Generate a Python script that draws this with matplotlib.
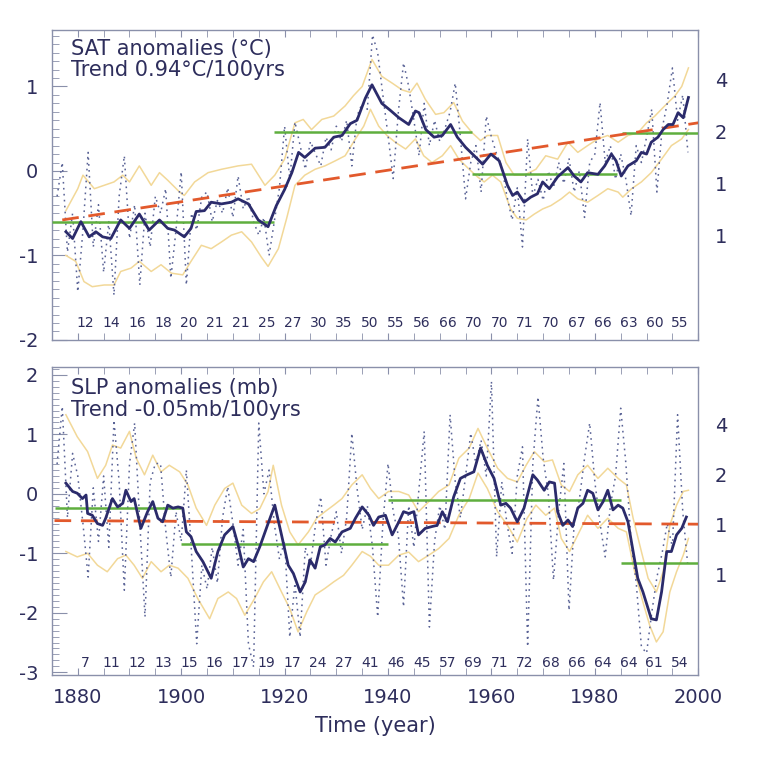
import numpy as np
import matplotlib
matplotlib.use("Agg")
import matplotlib.pyplot as plt
from matplotlib.ticker import MultipleLocator

plt.rcParams["axes.unicode_minus"] = False

# ---------------- SAT panel data ----------------
sat_years = list(range(1876, 1999))
sat_annual = [-0.3, 0.1, -0.96, -0.5, -1.43, -0.7, 0.22, -0.9, -0.4, -1.2,
              -0.6, -1.47, -0.3, 0.18, -0.8, -0.4, -1.35, -0.5, -0.9, -0.3,
              -0.5, -0.21, -1.27, -0.7, -0.01, -1.35, -0.5, -0.7, -0.3, -0.25,
              -0.6, -0.35, -0.5, -0.2, -0.55, -0.06, -0.45, -0.3, -0.6, -0.76,
              -0.55, -1.0, -0.6, -0.2, 0.53, -0.1, 0.58, 0.3, 0.02, 0.35,
              0.2, 0.06, 0.4, 0.25, 0.53, 0.35, 0.6, 0.06, 0.65, 0.8,
              0.73, 1.61, 1.4, 0.9, 0.42, -0.09, 0.7, 1.28, 1.0, 0.6,
              0.18, 0.8, 0.3, 0.6, 0.35, 0.5, 0.7, 1.04, 0.4, -0.33,
              0.1, 0.3, -0.25, 0.65, 0.4, 0.2, 0.05, -0.3, -0.58, -0.2,
              -0.9, 0.38, -0.3, -0.1, -0.35, 0.0, -0.2, 0.1, -0.15, 0.15,
              -0.25, 0.0, -0.55, 0.1, 0.2, 0.81, 0.1, 0.3, -0.1, 0.2,
              -0.1, -0.53, 0.3, 0.1, 0.4, 0.73, -0.25, 0.5, 0.8, 1.22,
              0.6, 0.9, 0.22]

sat_smooth_years = [1877.7, 1879, 1880.6, 1882.2, 1883.5, 1884.8, 1886.4, 1888.3, 1890, 1891.9,
                    1893.8, 1895.8, 1897.4, 1898.7, 1900.6, 1901.9, 1902.9, 1904.5, 1905.8, 1907.8,
                    1909.7, 1911, 1913, 1914.9, 1916.8, 1918.4, 1920, 1921.4, 1922.7, 1923.9,
                    1925.9, 1927.8, 1929.5, 1931.1, 1932.7, 1934, 1935.6, 1936.9, 1938.8, 1940.4,
                    1942.1, 1944, 1945.3, 1946, 1947.3, 1948.9, 1950.5, 1952.1, 1953.4, 1955,
                    1957, 1958.3, 1959.9, 1961.5, 1963.1, 1964.1, 1965, 1966.3, 1967.6, 1968.9,
                    1969.9, 1971.2, 1972.8, 1974.8, 1976, 1977.3, 1978.6, 1980.6, 1981.9, 1983.2,
                    1984.1, 1985.1, 1986.4, 1988, 1989, 1990, 1990.9, 1992.2, 1993.2, 1994.2,
                    1995.1, 1996.1, 1997.1, 1998.1]
sat_smooth = [-0.72, -0.80, -0.60, -0.78, -0.72, -0.78, -0.80, -0.58, -0.68, -0.51,
              -0.70, -0.58, -0.68, -0.70, -0.78, -0.68, -0.48, -0.47, -0.37, -0.39,
              -0.37, -0.33, -0.39, -0.58, -0.66, -0.41, -0.22, -0.02, 0.22, 0.16,
              0.27, 0.28, 0.40, 0.42, 0.56, 0.60, 0.86, 1.02, 0.80, 0.72,
              0.63, 0.55, 0.71, 0.69, 0.49, 0.40, 0.42, 0.55, 0.40, 0.28,
              0.16, 0.08, 0.20, 0.12, -0.17, -0.29, -0.25, -0.37, -0.31, -0.27,
              -0.13, -0.21, -0.07, 0.04, -0.06, -0.13, -0.02, -0.04, 0.06, 0.20,
              0.12, -0.06, 0.06, 0.12, 0.22, 0.20, 0.34, 0.40, 0.49, 0.55,
              0.55, 0.69, 0.63, 0.87]

sat_upper_years = [1877.7, 1880, 1881, 1883.2, 1885.1, 1887, 1888.7, 1890, 1891.9, 1894.2,
                   1895.8, 1897.4, 1899.7, 1900.6, 1902.6, 1905.2, 1907.8, 1911, 1913.6, 1916.2,
                   1918.1, 1920, 1922, 1923.6, 1925.2, 1927.2, 1929.5, 1931.7, 1933.3, 1935,
                   1936.9, 1938.8, 1940.8, 1942.7, 1944.3, 1945.6, 1947.2, 1949.2, 1950.8, 1952.7,
                   1954.4, 1956.3, 1957.9, 1959.2, 1961.2, 1962.8, 1964.4, 1966.3, 1968.6, 1970.5,
                   1972.8, 1974.8, 1976.7, 1978.6, 1980.6, 1982.5, 1984.5, 1986.4, 1988.3, 1990,
                   1991.6, 1993.5, 1995.5, 1996.8, 1998.1]
sat_upper = [-0.47, -0.21, -0.05, -0.21, -0.17, -0.13, -0.05, -0.13, 0.06, -0.17,
             -0.02, -0.11, -0.25, -0.29, -0.13, -0.02, 0.02, 0.06, 0.08, -0.17,
             -0.05, 0.14, 0.57, 0.61, 0.49, 0.61, 0.65, 0.77, 0.89, 1.0,
             1.32, 1.12, 1.04, 0.96, 0.93, 1.04, 0.85, 0.67, 0.69, 0.81,
             0.59, 0.45, 0.36, 0.42, 0.42, 0.10, -0.05, -0.05, 0.02, 0.18,
             0.14, 0.34, 0.22, 0.30, 0.38, 0.42, 0.34, 0.42, 0.45, 0.57,
             0.65, 0.77, 0.89, 1.0, 1.22]

sat_lower_years = [1877.7, 1879.6, 1881.2, 1882.8, 1885.1, 1887, 1888.3, 1890.3, 1891.9, 1894.2,
                   1896.1, 1898.1, 1900.3, 1901.9, 1903.9, 1905.8, 1907.8, 1909.7, 1911.7, 1913.6,
                   1915.5, 1916.8, 1918.8, 1920.4, 1922, 1923.9, 1925.9, 1927.8, 1929.8, 1931.7,
                   1933.7, 1935.3, 1936.6, 1938.2, 1939.8, 1941.4, 1943.4, 1945.3, 1946.9, 1948.5,
                   1950.5, 1952.1, 1953.7, 1955.7, 1957.3, 1958.6, 1960.2, 1961.8, 1963.7, 1965,
                   1966.7, 1968.3, 1969.9, 1971.5, 1973.5, 1975.1, 1976.7, 1978.6, 1980.6, 1982.5,
                   1984.5, 1985.4, 1987.1, 1989, 1990.9, 1992.9, 1994.8, 1996.8, 1998.1]
sat_lower = [-1.0, -1.07, -1.31, -1.37, -1.35, -1.35, -1.19, -1.15, -1.07, -1.19,
             -1.11, -1.21, -1.23, -1.07, -0.88, -0.92, -0.84, -0.76, -0.72, -0.84,
             -1.02, -1.13, -0.92, -0.56, -0.17, -0.05, 0.02, 0.06, 0.12, 0.18,
             0.38, 0.53, 0.73, 0.53, 0.42, 0.34, 0.26, 0.38, 0.18, 0.10,
             0.18, 0.30, 0.14, 0.02, -0.07, -0.13, -0.05, -0.13, -0.45, -0.56,
             -0.58, -0.51, -0.45, -0.41, -0.33, -0.25, -0.33, -0.37, -0.29, -0.21,
             -0.25, -0.31, -0.21, -0.13, -0.02, 0.14, 0.30, 0.38, 0.49]

sat_regime_start = [1875, 1918, 1956.2, 1985.2]
sat_regime_end = [1918, 1956.2, 1984.3, 2000]
sat_regime_mean = [-0.61, 0.46, -0.04, 0.45]

sat_trend_years = [1877, 2000]
sat_trend = [-0.58, 0.57]

sat_stations = [12, 14, 16, 18, 20, 21, 21, 25, 27, 30, 35, 50,
                55, 56, 66, 70, 70, 71, 70, 67, 66, 63, 60, 55]

# ---------------- SLP panel data ----------------
slp_years = list(range(1876, 1999))
slp_annual = [0.5, 1.47, -0.4, 0.68, 0.3, -0.5, -1.40, 0.1, -0.8, 0.3,
              -0.9, 1.24, 0.2, -1.62, 0.5, 1.19, -0.5, -2.07, 0.2, 0.51,
              0.51, -0.6, -1.40, -0.3, -0.8, 0.40, -1.0, -2.52, -1.2, -1.6,
              -0.9, -1.5, -0.4, 0.12, -0.5, -1.2, -0.6, -2.52, -2.91, 1.19,
              0.0, 0.40, -0.5, -1.1, -0.8, -2.41, -1.5, -2.41, -0.9, -1.2,
              -0.5, -0.05, -1.2, -0.7, -0.3, -1.0, -0.4, 1.02, 0.1, -0.6,
              -0.2, -0.9, -2.07, -0.5, 0.51, -0.3, -0.7, -1.90, -0.2, -0.9,
              0.1, 1.05, -2.24, -0.8, -0.2, -0.6, 1.33, 0.2, -0.4, 0.3,
              1.02, 0.5, 0.9, 0.3, 1.89, -1.06, 0.2, -0.5, -1.0, 0.3,
              0.79, -2.57, 0.5, 1.63, 0.6, 0.0, -1.45, -0.3, 0.51, -1.96,
              -0.5, -0.1, 0.6, 1.19, 0.2, -0.5, -1.06, -0.2, 0.3, 1.44,
              0.51, -0.8, -1.5, -2.57, -2.68, -2.0, -1.4, -1.0, -0.5, -0.9,
              1.33, -0.3, -1.23]

slp_smooth_years = [1877.7, 1879, 1879.9, 1880.9, 1881.6, 1881.9, 1882.8, 1883.8, 1884.8, 1885.4,
                    1886.7, 1887.7, 1888.7, 1889.3, 1890.3, 1890.9, 1892.2, 1893.5, 1894.5, 1895.5,
                    1896.4, 1897.4, 1898.4, 1899.4, 1900.3, 1901, 1901.9, 1902.9, 1904.2, 1905.8,
                    1907.1, 1908.4, 1910, 1911, 1912, 1913, 1914, 1915.2, 1916.8, 1918.1,
                    1919.4, 1920.7, 1921.7, 1923, 1924, 1924.9, 1925.9, 1926.9, 1927.8, 1928.8,
                    1929.8, 1931.1, 1932.7, 1933.7, 1935, 1936.3, 1937.2, 1938.2, 1939.5, 1940.8,
                    1942.1, 1943, 1944, 1945, 1945.9, 1947.2, 1948.5, 1949.5, 1950.5, 1951.5,
                    1952.7, 1954, 1955.3, 1956.6, 1957.9, 1959.2, 1960.5, 1961.8, 1962.8, 1963.7,
                    1965, 1966.3, 1968, 1968.9, 1970.2, 1971.2, 1972.2, 1972.8, 1973.8, 1974.8,
                    1975.7, 1976.7, 1977.7, 1978.6, 1979.6, 1980.6, 1981.6, 1982.5, 1983.5, 1984.5,
                    1985.4, 1986.4, 1987.4, 1988.3, 1989.3, 1990.3, 1990.9, 1991.9, 1992.9, 1993.9,
                    1994.8, 1995.8, 1996.8, 1997.7]
slp_smooth = [0.18, 0.04, 0.01, -0.08, -0.02, -0.33, -0.36, -0.50, -0.53, -0.41,
              -0.08, -0.22, -0.16, 0.06, -0.13, -0.08, -0.58, -0.30, -0.13, -0.41,
              -0.47, -0.19, -0.24, -0.22, -0.24, -0.64, -0.72, -0.97, -1.14, -1.42,
              -0.97, -0.69, -0.55, -0.86, -1.23, -1.09, -1.14, -0.89, -0.50, -0.19,
              -0.69, -1.20, -1.34, -1.65, -1.48, -1.11, -1.25, -0.89, -0.86, -0.75,
              -0.81, -0.64, -0.58, -0.41, -0.22, -0.36, -0.53, -0.39, -0.36, -0.69,
              -0.47, -0.30, -0.33, -0.30, -0.69, -0.58, -0.55, -0.53, -0.30, -0.47,
              -0.05, 0.26, 0.32, 0.37, 0.77, 0.48, 0.26, -0.19, -0.16, -0.24,
              -0.47, -0.24, 0.32, 0.23, 0.06, 0.20, 0.18, -0.30, -0.53, -0.44,
              -0.55, -0.24, -0.16, 0.06, 0.01, -0.27, -0.13, 0.06, -0.27, -0.19,
              -0.24, -0.47, -0.97, -1.42, -1.65, -1.93, -2.10, -2.12, -1.65, -0.97,
              -0.97, -0.69, -0.58, -0.39]

slp_upper_years = [1877.7, 1879.9, 1881.9, 1883.8, 1885.4, 1886.7, 1888.3, 1890, 1891.3, 1892.9,
                   1894.5, 1896.1, 1897.7, 1899.7, 1901.3, 1902.9, 1904.9, 1906.5, 1908.4, 1910,
                   1911.7, 1913.6, 1915.2, 1916.8, 1917.8, 1919.4, 1921, 1922.6, 1924.6, 1926.2,
                   1927.8, 1929.5, 1931.1, 1933, 1935, 1936.6, 1938.2, 1940.1, 1942.1, 1944,
                   1945.9, 1947.9, 1949.8, 1951.8, 1953.7, 1955.7, 1957.4, 1959.2, 1961.2, 1963.1,
                   1965, 1966.7, 1968.3, 1970.2, 1971.8, 1973.5, 1975.1, 1976.7, 1978.6, 1980.6,
                   1982.5, 1984.5, 1986.1, 1987.4, 1989, 1990.3, 1991.9, 1993.2, 1994.5, 1995.8,
                   1997.1, 1998.1]
slp_upper = [1.33, 0.96, 0.71, 0.26, 0.48, 0.82, 0.77, 1.05, 0.60, 0.32,
             0.65, 0.37, 0.48, 0.37, 0.15, -0.24, -0.53, -0.19, 0.09, 0.18,
             -0.19, -0.33, -0.25, 0.04, 0.48, -0.19, -0.64, -0.86, -0.64, -0.41,
             -0.30, -0.19, -0.08, 0.15, 0.32, 0.09, -0.08, 0.04, 0.04, -0.02,
             -0.30, -0.13, 0.04, 0.15, 0.60, 0.77, 1.10, 0.77, 0.43, 0.26,
             0.20, 0.48, 0.71, 0.54, 0.57, 0.15, 0.04, 0.32, 0.48, 0.26,
             0.43, 0.26, 0.15, -0.41, -0.97, -1.42, -1.65, -1.31, -0.53, -0.19,
             0.04, 0.06]

slp_lower_years = [1877.7, 1879.9, 1881.9, 1883.8, 1885.7, 1887.7, 1889.3, 1890.9, 1892.5, 1894.2,
                   1896.1, 1897.7, 1899.4, 1901.3, 1903.2, 1905.5, 1907.1, 1909.1, 1910.7, 1912.3,
                   1914.2, 1915.9, 1917.5, 1919.4, 1921, 1922.6, 1924.3, 1925.9, 1927.8, 1929.5,
                   1931.4, 1933, 1935, 1936.6, 1938.2, 1940.1, 1942.1, 1944, 1945.9, 1947.9,
                   1949.8, 1951.8, 1953.7, 1955.7, 1957.4, 1959.2, 1961.2, 1963.1, 1965, 1966.9,
                   1968.6, 1970.5, 1972.2, 1973.5, 1975.1, 1976.7, 1978.6, 1980.6, 1982.5, 1984.5,
                   1986.1, 1987.7, 1989.3, 1990.6, 1991.9, 1993.2, 1994.5, 1995.8, 1997.1, 1998.1]
slp_lower = [-0.97, -1.06, -1.0, -1.20, -1.31, -1.09, -1.03, -1.20, -1.42, -1.14,
             -1.31, -1.2, -1.25, -1.42, -1.76, -2.10, -1.76, -1.65, -1.76, -2.04,
             -1.76, -1.48, -1.31, -1.65, -1.93, -2.32, -1.98, -1.70, -1.59, -1.48,
             -1.37, -1.20, -0.97, -1.05, -1.20, -1.20, -1.03, -0.98, -1.14, -1.03,
             -0.92, -0.75, -0.36, -0.08, 0.35, 0.09, -0.30, -0.53, -0.81, -0.41,
             -0.19, -0.36, -0.24, -0.75, -0.97, -0.69, -0.36, -0.58, -0.41, -0.58,
             -0.64, -1.31, -1.82, -2.21, -2.49, -2.32, -1.65, -1.31, -1.03, -0.75]

slp_regime_start = [1875.5, 1900, 1940, 1985]
slp_regime_end = [1900, 1940, 1985, 2000]
slp_regime_mean = [-0.23, -0.85, -0.10, -1.17]

slp_trend_years = [1875.5, 2000]
slp_trend = [-0.45, -0.51]

slp_stations = [7, 11, 12, 13, 15, 16, 17, 19, 17, 24, 27, 41,
                46, 45, 57, 69, 71, 72, 68, 66, 64, 64, 61, 54]

station_years = np.arange(1881.5, 2000, 5)

# right-hand labels (clipped in the source)
sat_right_pos = [1.08, 0.47, -0.15, -0.76]
slp_right_pos = [1.17, 0.32, -0.52, -1.35]
right_labels = ["4", "2", "1", "1"]

# ---------------- styles ----------------
NAVY = "#2b2b6b"
DOT = "#5a6396"
GOLD = "#f2d898"
GREEN = "#5fae3e"
RED = "#e2592c"
SPINE = "#8a90aa"
TEXT = "#2e2e5c"

fig = plt.figure(figsize=(7.75, 7.57), dpi=100)
ax1 = fig.add_axes([0.067, 0.551, 0.834, 0.4095])
ax2 = fig.add_axes([0.067, 0.108, 0.834, 0.407])


def draw_panel(ax, years, annual, sm_x, sm, up_x, up, lo_x, lo,
               rs, re, rm, tr_x, tr, stations, ylim, title, trend_txt,
               right_pos, bottom):
    ax.plot(up_x, up, color=GOLD, lw=1.1, zorder=2)
    ax.plot(lo_x, lo, color=GOLD, lw=1.1, zorder=2)
    ax.plot(years, annual, color=DOT, lw=1.1, dashes=(1.1, 2.8), zorder=3)
    ax.hlines(rm, rs, re, colors=GREEN, lw=1.8, zorder=4)
    ax.plot(tr_x, tr, color=RED, lw=2.0, dashes=(6, 3.5), zorder=5)
    ax.plot(sm_x, sm, color=NAVY, lw=2.0, zorder=6)

    ax.set_xlim(1875, 2000)
    ax.set_ylim(*ylim)
    ax.xaxis.set_major_locator(MultipleLocator(20))
    ax.xaxis.set_minor_locator(MultipleLocator(5))
    ax.yaxis.set_major_locator(MultipleLocator(1))
    ax.yaxis.set_minor_locator(MultipleLocator(0.1))
    ax.tick_params(which="both", direction="in", top=True, right=True,
                   color=SPINE, labelcolor=TEXT, labelsize=14)
    ax.tick_params(axis="x", which="both", length=5, pad=9)
    ax.tick_params(axis="y", which="major", length=11, pad=10)
    ax.tick_params(axis="y", which="minor", length=5)
    for s in ax.spines.values():
        s.set_color(SPINE)
        s.set_linewidth(1.0)
    if not bottom:
        ax.tick_params(axis="x", labelbottom=False)

    y1, y2, ys = (0.932, 0.86, 0.04) if bottom else (0.94, 0.871, 0.055)
    ax.text(0.03, y1, title, transform=ax.transAxes, fontsize=15,
            color=TEXT, va="center")
    ax.text(0.03, y2, trend_txt, transform=ax.transAxes, fontsize=15,
            color=TEXT, va="center")

    for x, n in zip(station_years, stations):
        ax.text(x, ys, str(n), transform=ax.get_xaxis_transform(),
                ha="center", va="center", fontsize=10, color=TEXT)

    axr = ax.twinx()
    axr.set_ylim(*ylim)
    axr.set_yticks(right_pos, right_labels)
    axr.tick_params(length=0, pad=12, labelsize=14, labelcolor=TEXT)
    for s in axr.spines.values():
        s.set_visible(False)


draw_panel(ax1, sat_years, sat_annual, sat_smooth_years, sat_smooth,
           sat_upper_years, sat_upper, sat_lower_years, sat_lower,
           sat_regime_start, sat_regime_end, sat_regime_mean,
           sat_trend_years, sat_trend, sat_stations, (-2.0, 1.67),
           "SAT anomalies (°C)", "Trend 0.94°C/100yrs", sat_right_pos, False)

draw_panel(ax2, slp_years, slp_annual, slp_smooth_years, slp_smooth,
           slp_upper_years, slp_upper, slp_lower_years, slp_lower,
           slp_regime_start, slp_regime_end, slp_regime_mean,
           slp_trend_years, slp_trend, slp_stations, (-3.05, 2.13),
           "SLP anomalies (mb)", "Trend -0.05mb/100yrs", slp_right_pos, True)

ax2.set_xlabel("Time (year)", fontsize=15, color=TEXT, labelpad=7)

fig.savefig("out.png", dpi=100, facecolor="white")
